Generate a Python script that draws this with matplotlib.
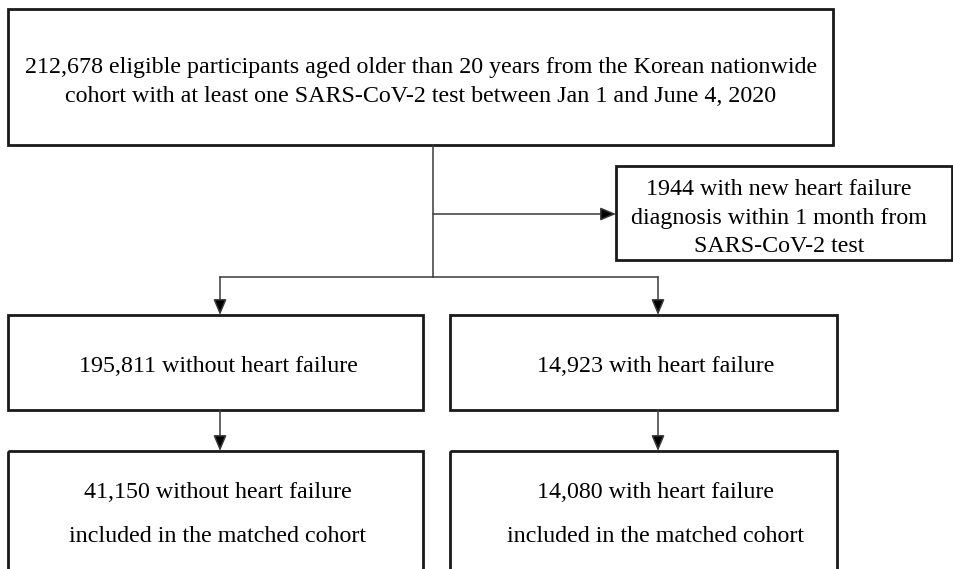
import matplotlib
matplotlib.use("Agg")
import matplotlib.pyplot as plt
from matplotlib.patches import Rectangle

# box texts
top_text = ["212,678 eligible participants aged older than 20 years from the Korean nationwide",
            "cohort with at least one SARS-CoV-2 test between Jan 1 and June 4, 2020"]
excl_text = ["1944 with new heart failure", "diagnosis within 1 month from", "SARS-CoV-2 test"]
group_text = ["195,811 without heart failure", "14,923 with heart failure"]
matched_text = [["41,150 without heart failure", "included in the matched cohort"],
                ["14,080 with heart failure", "included in the matched cohort"]]

plt.rcParams['font.family'] = ['Liberation Serif', 'DejaVu Serif']

fig = plt.figure(figsize=(9.54, 5.69), dpi=100)
ax = fig.add_axes([0, 0, 1, 1])
ax.set_xlim(0, 954)
ax.set_ylim(569, 0)
ax.axis('off')

fs = 17.3
box_lw = 2.0
line_lw = 1.1
line_c = '#3a3a3a'


def box(x0, y0, x1, y1):
    ax.add_patch(Rectangle((x0, y0), x1 - x0, y1 - y0, fill=False,
                           edgecolor='#1a1a1a', lw=box_lw, clip_on=False))


def lines(x, ys, cx):
    for i, y in enumerate(ys):
        ax.text(cx, y + 2, x[i], ha='center', va='center', fontsize=fs, color='black')


def arrow(x0, y0, x1, y1):
    ax.annotate('', xy=(x1, y1), xytext=(x0, y0),
                arrowprops=dict(arrowstyle='-|>,head_length=0.95,head_width=0.4',
                                color='black', ec=line_c, fc='black', lw=line_lw,
                                shrinkA=0, shrinkB=0))


# top box
box(8, 9, 833, 145)
lines(top_text, [65, 94], 421)

# main trunk
ax.plot([433, 433], [145, 277], color=line_c, lw=line_lw)
arrow(433, 214, 616, 214)

# exclusion box
box(616, 166, 952, 260)
lines(excl_text, [187, 216, 244], 779)

# split
ax.plot([220, 658], [277, 277], color=line_c, lw=line_lw)
arrow(220, 277, 220, 315)
arrow(658, 277, 658, 315)

# group boxes
box(8, 315, 423, 410)
box(450, 315, 837, 410)
lines([group_text[0]], [364], 218)
lines([group_text[1]], [364], 656)

arrow(220, 410, 220, 451)
arrow(658, 410, 658, 451)

# matched boxes
box(8, 451, 423, 600)
box(450, 451, 837, 600)
lines(matched_text[0], [490, 535], 218)
lines(matched_text[1], [490, 535], 656)

fig.savefig('out.png', dpi=100, facecolor='white')
